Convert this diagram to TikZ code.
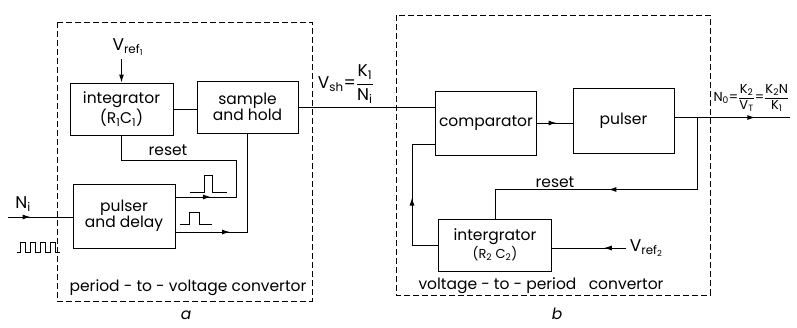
\documentclass[tikz,border=0pt]{standalone}
\usepackage{fontspec}
\usepackage{amsmath}
\setmainfont{Poppins}
\usetikzlibrary{arrows.meta, decorations.markings}

\tikzset{
  block/.style={draw, line width=1pt, align=center, inner sep=1pt},
  frame/.style={draw, line width=0.9pt, dash pattern=on 6pt off 3pt},
  biglbl/.style={font=\fontsize{17}{18}\selectfont},
  midarrow/.style={postaction={decorate},
    decoration={markings, mark=at position #1 with {\arrow{Latex[length=8pt,width=5pt]}}}},
  every path/.style={line width=1pt}
}

\begin{document}
\begin{tikzpicture}[x=1pt, y=-1pt, font=\fontsize{15.5}{16}\selectfont]
  \useasboundingbox (0,0) rectangle (797,327);

  % period-to-voltage convertor
  \draw[frame] (57,22) rectangle (312,301);
  \node (integ1) [block, minimum width=103pt, minimum height=52pt] at (121.5,109)
    {integrator\\(R\textsubscript{1}C\textsubscript{1})};
  \node (sh) [block, minimum width=101pt, minimum height=52pt] at (247.5,107)
    {sample\\and hold};
  \node (pd) [block, minimum width=102pt, minimum height=64pt] at (124,216)
    {pulser\\and delay};
  \node (vr1) [biglbl] at (128,47) {V\textsubscript{ref\textsubscript{1}}};
  \node (lbla) at (188,288) {period - to - voltage convertor};
  \node (reset1) at (168,150) {reset};
  \node (nlbl) [biglbl] at (23,204) {N\textsubscript{i}};
  \coordinate (nin) at (8,217);

  \draw[-{Latex[length=8pt,width=5pt]}] (vr1.south -| integ1.north) -- (integ1.north);
  \draw (integ1.east) -- (integ1.east -| sh.west);
  \draw[midarrow=0.35] (nin) -- (nin -| pd.west);
  \draw[midarrow=0.15] ([yshift=19pt]pd.east) -| (236,160) -| (integ1.south);
  \draw[midarrow=0.32] ([yshift=-16pt]pd.east) -| (sh.south);

  % pulses
  \draw[line width=0.9pt] (190,192) -- (204,192) -- (204,175) -- (212,175) -- (212,192) -- (227,192);
  \draw[line width=0.9pt] (180,224) -- (189,224) -- (189,212) -- (199,212) -- (199,224) -- (212,224);
  \draw[line width=0.9pt] (17,252) -- (20,252)
    \foreach \i in {0,...,3} { -- ++(0,-10) -- ++(5,0) -- ++(0,10) -- ++(5,0) };

  % voltage-to-period convertor
  \draw[frame] (396,15) rectangle (710,295);
  \node (comp) [block, minimum width=101pt, minimum height=64pt] at (486,123) {comparator};
  \node (puls) [block, minimum width=101pt, minimum height=65pt] at (623.5,120.5) {pulser};
  \node (integ2) [block, minimum width=113pt, minimum height=52pt] at (495,245)
    {intergrator\\{\fontsize{13}{14}\selectfont(R\textsubscript{2} C\textsubscript{2})}};
  \node (vr2) [biglbl, anchor=west] at (626,248) {V\textsubscript{ref\textsubscript{2}}};
  \node (lblb) at (541,286) {voltage - to - period \ \ convertor};
  \node (reset2) at (555,182) {reset};
  \node (vsh) [biglbl, anchor=west] at (314,84)
    {V\textsubscript{sh}=$\dfrac{\text{K}_\text{1}}{\text{N}_\text{i}}$};
  \node (nout) [anchor=west, inner sep=1pt, font=\fontsize{13}{14}\selectfont] at (712,98)
    {N\textsubscript{0}=$\dfrac{\text{K}_\text{2}}{\text{V}_\text{T}}$=$\dfrac{\text{K}_\text{2}\text{N}}{\text{K}_\text{1}}$};
  \coordinate (br) at (697,117.5);
  \coordinate (oend) at (790,117.5);

  \draw (sh.east) -- (sh.east -| comp.west);
  \draw[midarrow=0.55] (comp.east) -- (comp.east -| puls.west);
  \draw[midarrow=0.7] ([yshift=3pt]puls.east) -- (oend);
  \draw[midarrow=0.53] (br) |- ([yshift=29pt]integ2.north) -- (integ2.north);
  \draw[midarrow=0.49] (integ2.west) -| ([xshift=-23pt,yshift=-21pt]comp.west) -- ([yshift=-21pt]comp.west);
  \draw[midarrow=0.3] (vr2.west) -- (vr2.west -| integ2.east);

  % captions
  \node (capa) at (186,315) {\itshape a};
  \node (capb) at (557,314) {\itshape b};
\end{tikzpicture}
\end{document}
